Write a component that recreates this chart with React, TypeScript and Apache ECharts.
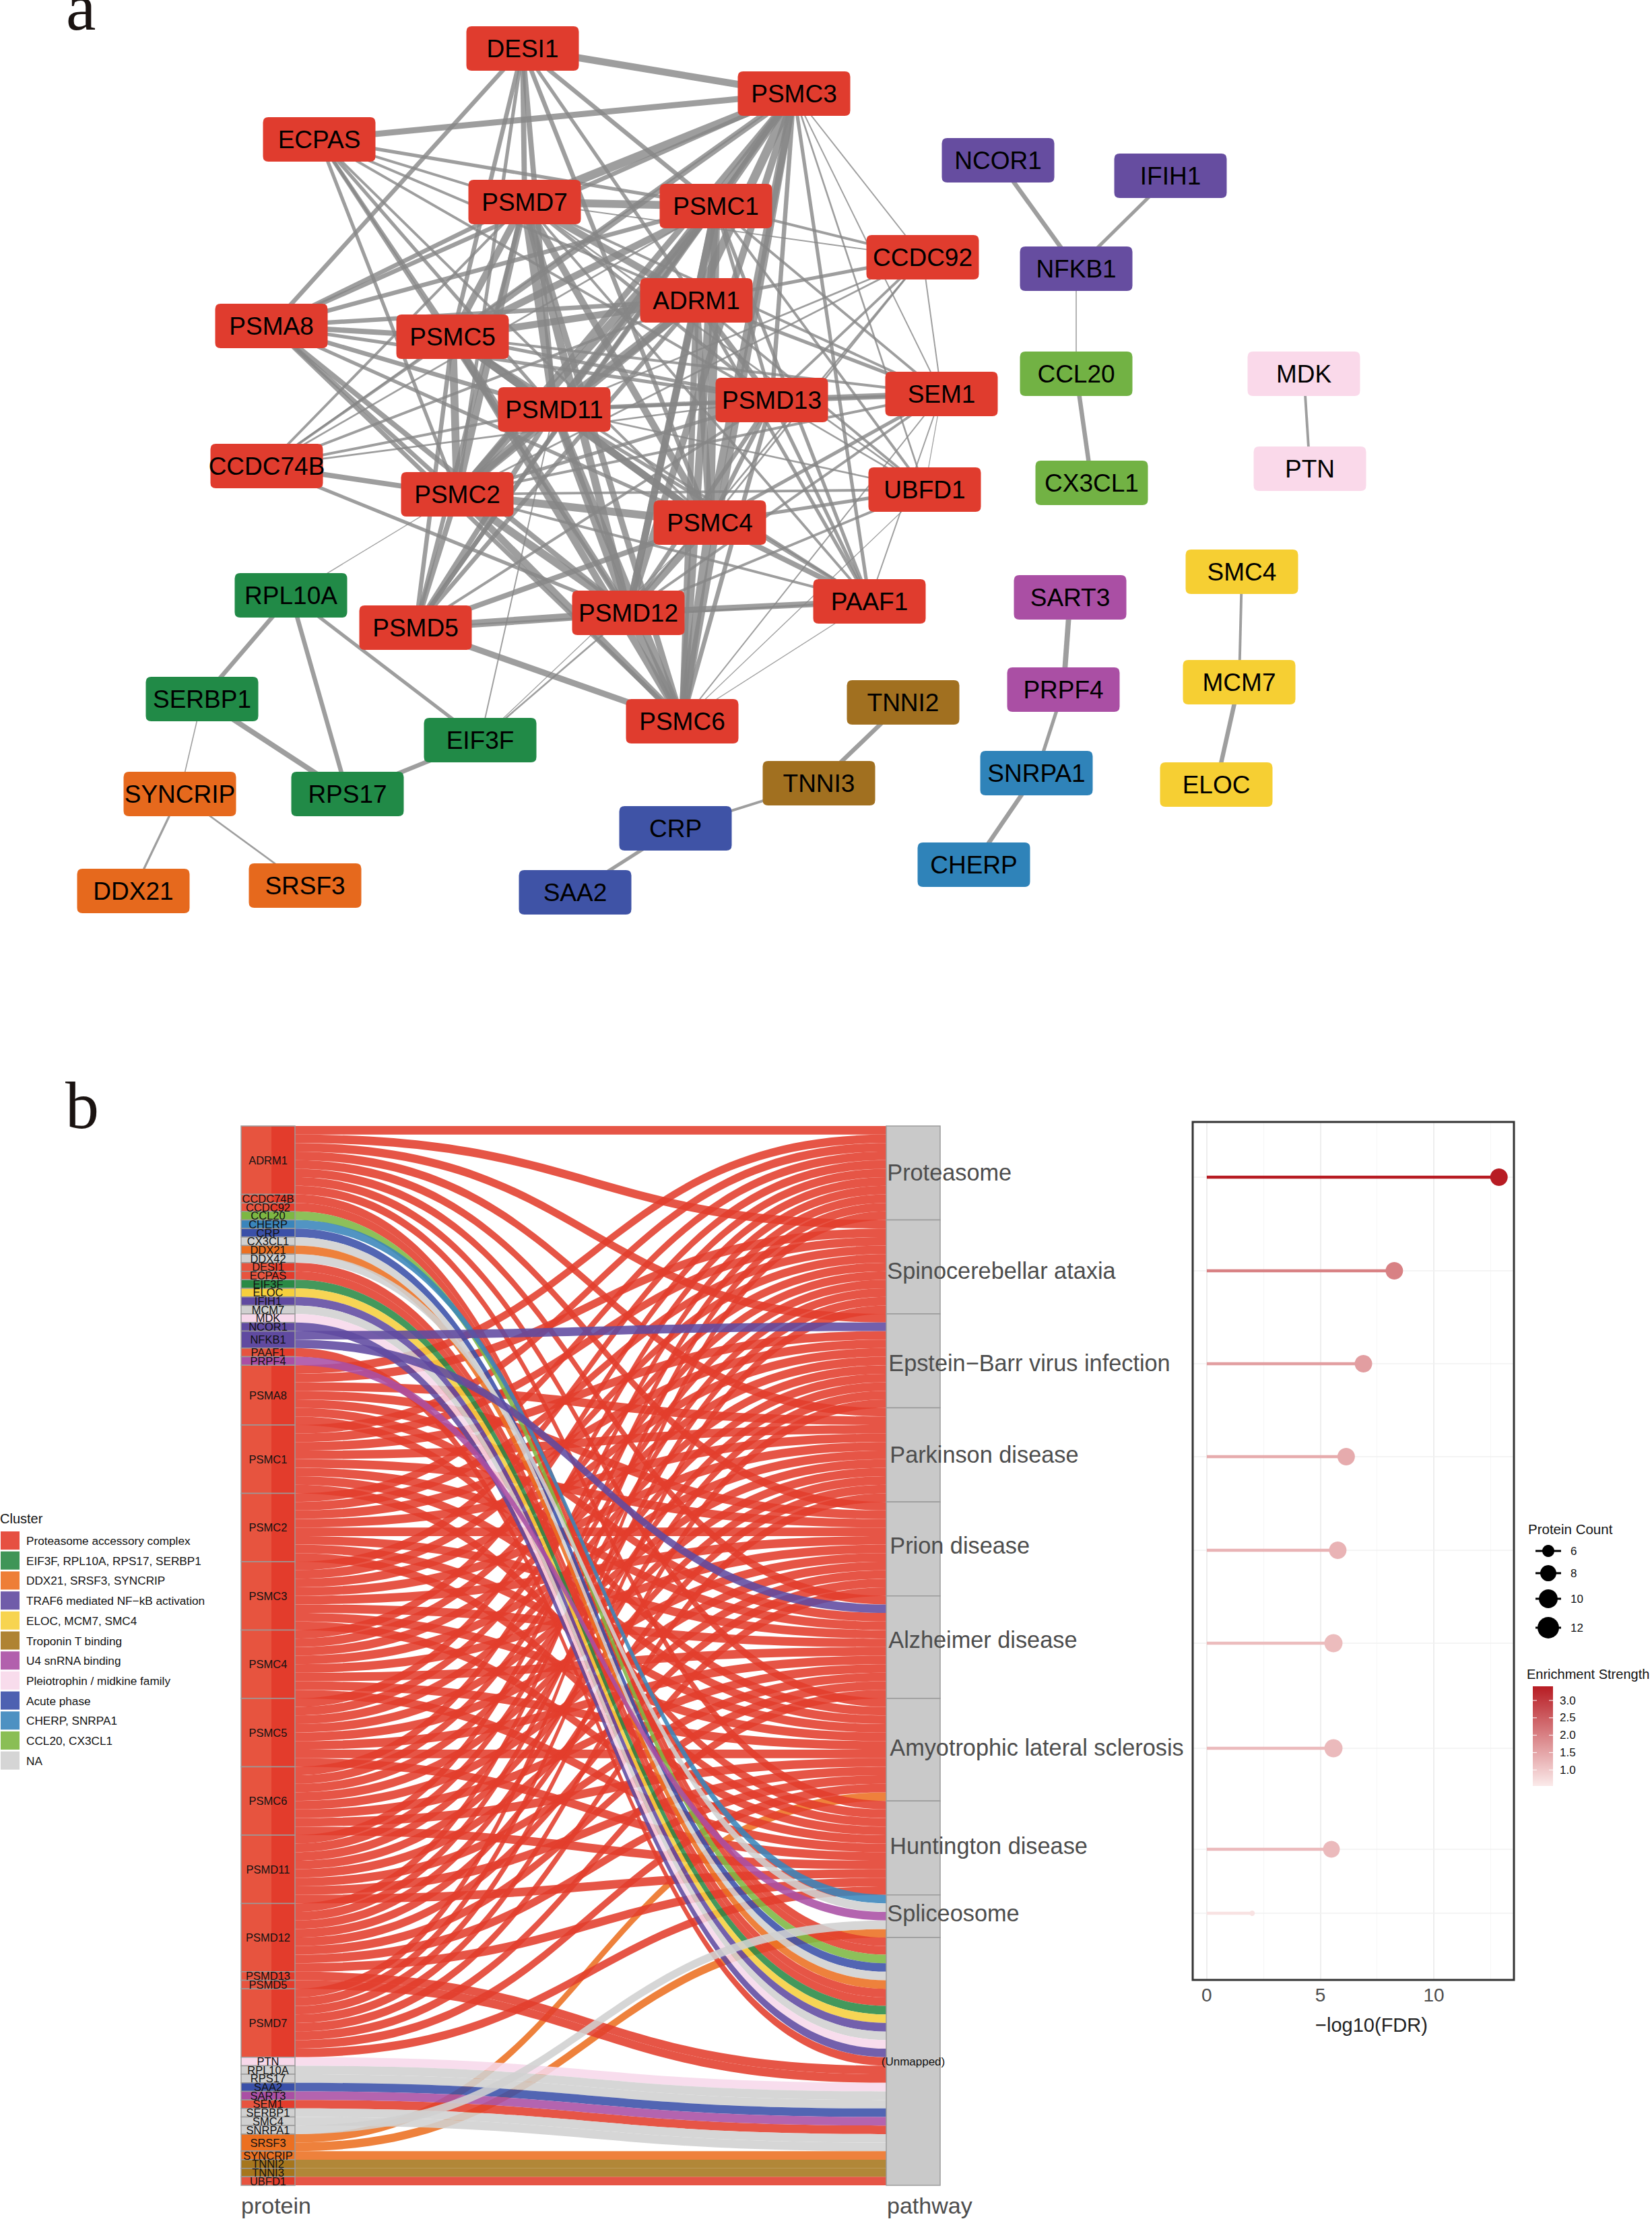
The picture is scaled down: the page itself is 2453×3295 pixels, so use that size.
import React, { useEffect, useRef } from "react";
import * as echarts from "echarts";

const FONT = "Liberation Sans";
const EDGE_SCALE = 1.3;

// ---------- network (panel a) ----------
const netColors: Record<string, string> = {
  red: "#e03c2e", green: "#218a47", orange: "#e6691d", purple: "#664da0", yellow: "#f6cf33",
  brown: "#a17020", magenta: "#aa4fa4", pink: "#fad9ea", indigo: "#3f53a6", blue: "#2f83b9", lime: "#72b244",
};
const netNodes: [string, number, number, string][] = [
  ["DESI1", 776, 72, "red"], ["PSMC3", 1179, 139, "red"], ["ECPAS", 474, 207, "red"], ["PSMD7", 779, 300, "red"],
  ["PSMC1", 1063, 306, "red"], ["CCDC92", 1370, 382, "red"], ["ADRM1", 1034, 446, "red"], ["PSMA8", 403, 484, "red"],
  ["PSMC5", 672, 500, "red"], ["PSMD11", 823, 608, "red"], ["PSMD13", 1146, 594, "red"], ["SEM1", 1398, 585, "red"],
  ["CCDC74B", 396, 692, "red"], ["PSMC2", 679, 734, "red"], ["UBFD1", 1373, 727, "red"], ["PSMC4", 1054, 776, "red"],
  ["PSMD5", 617, 932, "red"], ["PSMD12", 933, 910, "red"], ["PAAF1", 1291, 893, "red"], ["PSMC6", 1013, 1071, "red"],
  ["RPL10A", 432, 884, "green"], ["SERBP1", 300, 1038, "green"], ["EIF3F", 713, 1099, "green"], ["RPS17", 516, 1179, "green"],
  ["SYNCRIP", 267, 1179, "orange"], ["DDX21", 198, 1323, "orange"], ["SRSF3", 453, 1315, "orange"],
  ["TNNI2", 1341, 1043, "brown"], ["TNNI3", 1216, 1163, "brown"], ["CRP", 1003, 1230, "indigo"], ["SAA2", 854, 1325, "indigo"],
  ["NCOR1", 1482, 238, "purple"], ["IFIH1", 1738, 261, "purple"], ["NFKB1", 1598, 399, "purple"],
  ["CCL20", 1598, 555, "lime"], ["CX3CL1", 1621, 717, "lime"], ["MDK", 1936, 555, "pink"], ["PTN", 1945, 696, "pink"],
  ["SMC4", 1844, 849, "yellow"], ["MCM7", 1840, 1013, "yellow"], ["ELOC", 1806, 1165, "yellow"],
  ["SART3", 1589, 887, "magenta"], ["PRPF4", 1579, 1024, "magenta"], ["SNRPA1", 1539, 1148, "blue"], ["CHERP", 1446, 1284, "blue"],
];
const coreEdges: [string, string, number][] = [
  ["ADRM1", "PSMC1", 9], ["ADRM1", "PSMC2", 8], ["ADRM1", "PSMC3", 10], ["ADRM1", "PSMC4", 8], ["ADRM1", "PSMC5", 8],
  ["ADRM1", "PSMC6", 7], ["ADRM1", "PSMD7", 8], ["ADRM1", "PSMD11", 10], ["ADRM1", "PSMD12", 8],
  ["PSMC1", "PSMC2", 9], ["PSMC1", "PSMC3", 8], ["PSMC1", "PSMC4", 10], ["PSMC1", "PSMC5", 8], ["PSMC1", "PSMC6", 9],
  ["PSMC1", "PSMD7", 9], ["PSMC1", "PSMD11", 8], ["PSMC1", "PSMD12", 8],
  ["PSMC2", "PSMC3", 7], ["PSMC2", "PSMC4", 9], ["PSMC2", "PSMC5", 9], ["PSMC2", "PSMC6", 8], ["PSMC2", "PSMD7", 8],
  ["PSMC2", "PSMD11", 9], ["PSMC2", "PSMD12", 9],
  ["PSMC3", "PSMC4", 9], ["PSMC3", "PSMC5", 8], ["PSMC3", "PSMC6", 8], ["PSMC3", "PSMD7", 10], ["PSMC3", "PSMD11", 8], ["PSMC3", "PSMD12", 8],
  ["PSMC4", "PSMC5", 8], ["PSMC4", "PSMC6", 10], ["PSMC4", "PSMD7", 8], ["PSMC4", "PSMD11", 8], ["PSMC4", "PSMD12", 9],
  ["PSMC5", "PSMC6", 8], ["PSMC5", "PSMD7", 8], ["PSMC5", "PSMD11", 9], ["PSMC5", "PSMD12", 8],
  ["PSMC6", "PSMD7", 7], ["PSMC6", "PSMD11", 9], ["PSMC6", "PSMD12", 9],
  ["PSMD7", "PSMD11", 10], ["PSMD7", "PSMD12", 9], ["PSMD11", "PSMD12", 9],
];
const peripheralEdges: [string, string, number][] = [
  ["DESI1", "PSMC3", 8], ["DESI1", "PSMA8", 5], ["DESI1", "PSMD7", 6], ["DESI1", "PSMC5", 5], ["DESI1", "PSMD11", 6],
  ["DESI1", "PSMC4", 5], ["DESI1", "PSMC1", 5], ["DESI1", "PSMC2", 4], ["DESI1", "ADRM1", 4],
  ["ECPAS", "PSMC3", 7], ["ECPAS", "PSMC1", 4], ["ECPAS", "PSMD7", 3], ["ECPAS", "ADRM1", 3], ["ECPAS", "PSMC5", 4],
  ["ECPAS", "PSMD11", 4], ["ECPAS", "PSMC2", 4], ["ECPAS", "PSMD12", 4], ["ECPAS", "PSMC4", 3], ["ECPAS", "PSMD13", 3],
  ["PSMA8", "PSMD7", 5], ["PSMA8", "PSMC1", 5], ["PSMA8", "ADRM1", 5], ["PSMA8", "PSMC3", 5], ["PSMA8", "PSMC5", 6],
  ["PSMA8", "PSMD11", 5], ["PSMA8", "PSMC2", 5], ["PSMA8", "PSMC4", 4], ["PSMA8", "PSMD12", 6], ["PSMA8", "PSMC6", 5], ["PSMA8", "PSMD13", 4],
  ["CCDC74B", "PSMC5", 3], ["CCDC74B", "PSMD7", 3], ["CCDC74B", "PSMC1", 2], ["CCDC74B", "ADRM1", 3], ["CCDC74B", "PSMD11", 3],
  ["CCDC74B", "PSMC2", 6], ["CCDC74B", "PSMD12", 4], ["CCDC74B", "PSMD13", 2], ["CCDC74B", "PSMC3", 2],
  ["SEM1", "PSMD13", 7], ["SEM1", "PSMD11", 3], ["SEM1", "ADRM1", 4], ["SEM1", "PSMC1", 3], ["SEM1", "PSMC5", 3], ["SEM1", "PSMC4", 4],
  ["SEM1", "PSMD7", 3], ["SEM1", "PSMC2", 3], ["SEM1", "PSMD12", 3], ["SEM1", "PSMC6", 1.5], ["SEM1", "PAAF1", 1.5], ["SEM1", "PSMC3", 1.5], ["SEM1", "UBFD1", 1],
  ["CCDC92", "PSMC3", 1.5], ["CCDC92", "PSMC1", 3], ["CCDC92", "PSMD7", 1.5], ["CCDC92", "ADRM1", 4], ["CCDC92", "PSMD11", 2], ["CCDC92", "PSMD13", 3],
  ["CCDC92", "PSMC4", 2], ["CCDC92", "PSMD12", 2], ["CCDC92", "PSMC2", 2], ["CCDC92", "SEM1", 1.5],
  ["UBFD1", "PSMC2", 3], ["UBFD1", "PSMC4", 4], ["UBFD1", "PSMD11", 2], ["UBFD1", "ADRM1", 3], ["UBFD1", "PSMC1", 3], ["UBFD1", "PSMD12", 3],
  ["UBFD1", "PSMC6", 1], ["UBFD1", "PSMC3", 2], ["UBFD1", "PSMD13", 2], ["UBFD1", "PSMD7", 2],
  ["PAAF1", "PSMD12", 7], ["PAAF1", "PSMC4", 6], ["PAAF1", "ADRM1", 4], ["PAAF1", "PSMC1", 4], ["PAAF1", "PSMC2", 3], ["PAAF1", "PSMD11", 4],
  ["PAAF1", "PSMD7", 3], ["PAAF1", "PSMC3", 4], ["PAAF1", "PSMD13", 4], ["PAAF1", "PSMC5", 3], ["PAAF1", "PSMC6", 1], ["PAAF1", "PSMD5", 2],
  ["PSMD5", "PSMD12", 9], ["PSMD5", "PSMC6", 7], ["PSMD5", "PSMC2", 6], ["PSMD5", "PSMC5", 5], ["PSMD5", "PSMD7", 5], ["PSMD5", "PSMD11", 6],
  ["PSMD5", "PSMC1", 5], ["PSMD5", "ADRM1", 5], ["PSMD5", "PSMC3", 5], ["PSMD5", "PSMC4", 6], ["PSMD5", "PSMD13", 3],
  ["PSMD13", "ADRM1", 6], ["PSMD13", "PSMC1", 4], ["PSMD13", "PSMD11", 5], ["PSMD13", "PSMC4", 5], ["PSMD13", "PSMC6", 5], ["PSMD13", "PSMD12", 5],
  ["PSMD13", "PSMC2", 4], ["PSMD13", "PSMC5", 4], ["PSMD13", "PSMC3", 5], ["PSMD13", "PSMD7", 4],
];
const smallEdges: [string, string, number][] = [
  ["RPL10A", "SERBP1", 5], ["RPL10A", "RPS17", 5], ["RPL10A", "EIF3F", 4], ["RPL10A", "PSMC2", 1],
  ["EIF3F", "RPS17", 5], ["EIF3F", "PSMD11", 1.5], ["EIF3F", "PSMC4", 1], ["EIF3F", "PSMD12", 2],
  ["SERBP1", "RPS17", 6], ["SERBP1", "SYNCRIP", 1.2], ["SYNCRIP", "DDX21", 2.5], ["SYNCRIP", "SRSF3", 2],
  ["TNNI2", "TNNI3", 5], ["TNNI3", "CRP", 3], ["CRP", "SAA2", 4], ["SART3", "PRPF4", 6], ["PRPF4", "SNRPA1", 4], ["SNRPA1", "CHERP", 5],
  ["SMC4", "MCM7", 3], ["MCM7", "ELOC", 5], ["MDK", "PTN", 3], ["NFKB1", "CCL20", 1.2], ["CCL20", "CX3CL1", 5], ["NFKB1", "NCOR1", 5], ["NFKB1", "IFIH1", 4],
];

// ---------- alluvial (panel b) ----------
const clusterNames = [
  "Proteasome accessory complex", "EIF3F, RPL10A, RPS17, SERBP1", "DDX21, SRSF3, SYNCRIP", "TRAF6 mediated NF\u2212kB activation",
  "ELOC, MCM7, SMC4", "Troponin T binding", "U4 snRNA binding", "Pleiotrophin / midkine family", "Acute phase",
  "CHERP, SNRPA1", "CCL20, CX3CL1", "NA",
];
const clusterColors = ["#e33d2c", "#2a8a45", "#ec7021", "#604aa0", "#f6cf3d", "#a6761d", "#aa4fa4", "#f7d8ea", "#3a50a8", "#3a85bb", "#7db743", "#d0d0d0"];
const pathways = [
  "Proteasome", "Spinocerebellar ataxia", "Epstein\u2212Barr virus infection", "Parkinson disease", "Prion disease",
  "Alzheimer disease", "Amyotrophic lateral sclerosis", "Huntington disease", "Spliceosome", "(Unmapped)",
];
const pathwayUnits = [11, 11, 11, 11, 11, 12, 12, 11, 5, 29];
const pathwayLabelDx = [2, 2, 4, 6, 6, 4, 6, 6, 2, 0];
const pathwayLabelDy = [0, 6, 4, 0, -4, -10, -2, -2, -4, 0];
const UNIT_PX = 1573 / 124;
const eight = [0, 1, 2, 3, 4, 5, 6, 7];
const seven = [0, 1, 3, 4, 5, 6, 7];
const proteinFlows: [string, number, number[]][] = [
  ["ADRM1", 0, eight], ["CCDC74B", 0, [9]], ["CCDC92", 0, [9]], ["CCL20", 10, [9]], ["CHERP", 9, [8]], ["CRP", 8, [9]],
  ["CX3CL1", 11, [9]], ["DDX21", 2, [9]], ["DDX42", 11, [8]], ["DESI1", 0, [9]], ["ECPAS", 0, [9]], ["EIF3F", 1, [9]],
  ["ELOC", 4, [9]], ["IFIH1", 3, [9]], ["MCM7", 11, [9]], ["MDK", 7, [9]], ["NCOR1", 3, [9]], ["NFKB1", 3, [2, 5]],
  ["PAAF1", 0, [9]], ["PRPF4", 6, [8]], ["PSMA8", 0, seven], ["PSMC1", 0, eight], ["PSMC2", 0, eight], ["PSMC3", 0, eight],
  ["PSMC4", 0, eight], ["PSMC5", 0, eight], ["PSMC6", 0, eight], ["PSMD11", 0, eight], ["PSMD12", 0, eight], ["PSMD13", 0, [9]],
  ["PSMD5", 0, [9]], ["PSMD7", 0, eight], ["PTN", 7, [9]], ["RPL10A", 11, [9]], ["RPS17", 11, [9]], ["SAA2", 8, [9]],
  ["SART3", 6, [9]], ["SEM1", 0, [9]], ["SERBP1", 11, [9]], ["SMC4", 11, [9]], ["SNRPA1", 11, [8]], ["SRSF3", 2, [6, 8]],
  ["SYNCRIP", 2, [9]], ["TNNI2", 5, [9]], ["TNNI3", 5, [9]], ["UBFD1", 0, [9]],
];

// ---------- lollipop ----------
const lollipopRows = [82, 221, 359, 497, 636, 774, 930, 1080, 1175];
const minusLogFdr = [12.87, 8.26, 6.9, 6.14, 5.77, 5.58, 5.58, 5.49, 2.0];
const dotDiameter = [26, 26, 26, 26, 26, 27, 27, 25, 8];
const enrichment = [3.2, 2.0, 1.65, 1.5, 1.4, 1.3, 1.32, 1.32, 0.85];
const countLegend = [6, 8, 10, 12];
const countLegendSize = [18, 24, 28, 32];
const strengthTicks = ["3.0", "2.5", "2.0", "1.5", "1.0"];

function roundedBox(): string {
  return "path://M8 0H159Q167 0 167 8V58Q167 66 159 66H8Q0 66 0 58V8Q0 0 8 0Z";
}

function drawRank(name: string, c: number): number {
  if (name === "SRSF3") return 0; // lies under the red ribbons
  return c === 0 ? 1 : 2;
}

function buildOption(): any {
  const netData = netNodes.map(([name, x, y, c]) => ({
    name, value: [x, y], symbol: roundedBox(), symbolSize: [167, 66], itemStyle: { color: netColors[c] },
  }));
  const netLinks = [...coreEdges, ...peripheralEdges, ...smallEdges].map(([source, target, w]) => ({
    source, target, lineStyle: { width: w * EDGE_SCALE },
  }));

  const sankeyNodes: any[] = proteinFlows.map(([name, c]) => ({
    name, depth: 0,
    itemStyle: {
      borderColor: "#9a9a9a", borderWidth: 1.5,
      color: c === 0
        ? { type: "linear", x: 0, y: 0, x2: 1, y2: 0, colorStops: [
            { offset: 0, color: "#e7543f" }, { offset: 0.56, color: "#e7543f" },
            { offset: 0.56, color: "#e33c2c" }, { offset: 1, color: "#e33c2c" }] }
        : clusterColors[c],
    },
    label: { show: true, position: "inside", fontSize: 16.5, color: "#111", fontFamily: FONT },
  }));
  pathways.forEach((name, i) => {
    sankeyNodes.push({
      name, depth: 1,
      itemStyle: { color: "#c9c9c9", borderColor: "#9a9a9a", borderWidth: 1.5 },
      label: i === 9
        ? { show: true, position: "inside", fontSize: 17, color: "#111", fontFamily: FONT }
        : { show: true, position: [pathwayLabelDx[i], (pathwayUnits[i] * UNIT_PX) / 2 + pathwayLabelDy[i]], align: "left", verticalAlign: "middle", fontSize: 34.3, color: "#4d4d4d", fontFamily: FONT },
    });
  });
  const flows: any[] = [];
  proteinFlows.forEach(([name, c, targets]) => {
    targets.forEach((t) => flows.push({ source: name, target: pathways[t], value: 1, rank: drawRank(name, c), lineStyle: { color: clusterColors[c], opacity: 0.88, curveness: 0.5 } }));
  });
  flows.sort((a, b) => a.rank - b.rank);

  const lolli = lollipopRows.map((y, i) => [minusLogFdr[i], y, dotDiameter[i], enrichment[i]]);

  const g: any[] = [];
  const txt = (x: number, y: number, text: string, fontSize: number, fill = "#111") =>
    g.push({ type: "text", x, y, style: { text, fontSize, fill, fontFamily: FONT, verticalAlign: "middle" } });
  g.push({ type: "text", x: 98, y: -40, style: { text: "a", fontSize: 100, fill: "#1a1311", fontFamily: "Liberation Serif" } });
  g.push({ type: "text", x: 97, y: 1591, style: { text: "b", fontSize: 100, fill: "#1a1311", fontFamily: "Liberation Serif" } });
  txt(358, 3275, "protein", 34, "#4d4d4d");
  txt(1317, 3275, "pathway", 34, "#4d4d4d");
  txt(0, 2255, "Cluster", 20);
  clusterNames.forEach((name, i) => {
    g.push({ type: "rect", shape: { x: 1, y: 2274 + i * 29.7, width: 28, height: 27 }, style: { fill: clusterColors[i], opacity: 0.9 } });
    txt(39, 2288 + i * 29.7, name, 17.2);
  });
  txt(2269, 2270, "Protein Count", 20.5);
  const keyY = [2303, 2336, 2374, 2417];
  countLegend.forEach((c, i) => {
    g.push({ type: "line", shape: { x1: 2280, y1: keyY[i], x2: 2318, y2: keyY[i] }, style: { stroke: "#000", lineWidth: 3 } });
    g.push({ type: "circle", shape: { cx: 2299, cy: keyY[i], r: countLegendSize[i] / 2 }, style: { fill: "#000" } });
    txt(2332, keyY[i], String(c), 17);
  });
  txt(2267, 2486, "Enrichment Strength", 20);
  g.push({
    type: "rect", shape: { x: 2276, y: 2504, width: 30, height: 148 },
    style: { fill: { type: "linear", x: 0, y: 0, x2: 0, y2: 1, colorStops: [{ offset: 0, color: "#b71c23" }, { offset: 1, color: "#fbeaea" }] } },
  });
  strengthTicks.forEach((t, i) => {
    const y = 2525 + i * 25.8;
    g.push({ type: "line", shape: { x1: 2276, y1: y, x2: 2282, y2: y }, style: { stroke: "#fff", lineWidth: 1 } });
    g.push({ type: "line", shape: { x1: 2300, y1: y, x2: 2306, y2: y }, style: { stroke: "#fff", lineWidth: 1 } });
    txt(2316, y, t, 17);
  });
  // panel frame above the grid lines
  g.push({ type: "rect", z: 100, shape: { x: 1771, y: 1666, width: 477, height: 1274 }, style: { fill: "transparent", stroke: "#333", lineWidth: 3 } });

  return {
    animation: false,
    backgroundColor: "#fff",
    textStyle: { fontFamily: FONT },
    grid: [
      { left: 1771, top: 1666, width: 477, height: 1274, show: false },
      { left: 0, top: 0, width: 2453, height: 1400 },
    ],
    xAxis: [
      {
        type: "value", gridIndex: 0, min: -0.62, max: 13.53, splitNumber: 3,
        name: "\u2212log10(FDR)", nameLocation: "middle", nameGap: 52,
        nameTextStyle: { fontSize: 29, color: "#222", fontFamily: FONT, padding: [0, 0, 0, 54] },
        axisLine: { show: false }, axisTick: { show: false },
        axisLabel: { fontSize: 28, color: "#4d4d4d", margin: 8, fontFamily: FONT, showMinLabel: false, showMaxLabel: false },
        splitLine: { show: true, lineStyle: { color: "#eeeeee", width: 2 } },
        minorSplitLine: { show: true, lineStyle: { color: "#f5f5f5", width: 1 } },
        minorTick: { show: false, splitNumber: 2 },
      },
      { type: "value", gridIndex: 1, min: 0, max: 2453, show: false },
    ],
    yAxis: [
      { type: "value", gridIndex: 0, min: 0, max: 1274, inverse: true, show: false, splitLine: { show: false } },
      { type: "value", gridIndex: 1, min: 0, max: 1400, inverse: true, show: false },
    ],
    visualMap: { show: false, seriesIndex: [3, 4], dimension: 3, min: 0.75, max: 3.2, inRange: { color: ["#fbeaea", "#b71c23"] } },
    graphic: { elements: g },
    series: [
      {
        type: "graph", coordinateSystem: "cartesian2d", xAxisIndex: 1, yAxisIndex: 1, layout: "none", silent: true,
        data: netData, links: netLinks,
        lineStyle: { color: "#868686", opacity: 0.8, curveness: 0 },
        label: { show: true, position: "inside", fontSize: 37, color: "#000", fontFamily: FONT },
        emphasis: { disabled: true },
      },
      {
        type: "sankey", left: 358, top: 1672, width: 1038, height: 1573, nodeWidth: 80, nodeGap: 0,
        layoutIterations: 0, orient: "horizontal", draggable: false, silent: true,
        data: sankeyNodes, links: flows,
        emphasis: { disabled: true },
      },
      {
        type: "scatter", xAxisIndex: 0, yAxisIndex: 0, data: [], silent: true, z: 1,
        markLine: {
          silent: true, symbol: "none", z: 1, label: { show: false },
          lineStyle: { color: "#f0f0f0", width: 1.5, type: "solid" },
          data: lollipopRows.map((v) => ({ yAxis: v })),
        },
      },
      {
        type: "custom", xAxisIndex: 0, yAxisIndex: 0, silent: true, z: 2, data: lolli,
        renderItem: (_p: any, api: any) => {
          const a = api.coord([0, api.value(1)]);
          const b = api.coord([api.value(0), api.value(1)]);
          return { type: "line", shape: { x1: a[0], y1: a[1], x2: b[0], y2: b[1] }, style: { stroke: api.visual("color"), lineWidth: 4.5 } };
        },
        encode: { x: 0, y: 1 },
      },
      {
        type: "scatter", xAxisIndex: 0, yAxisIndex: 0, silent: true, z: 3, data: lolli,
        symbolSize: (v: number[]) => v[2],
        itemStyle: { opacity: 1 },
      },
    ],
  };
}

export default function App() {
  const ref = useRef<HTMLDivElement>(null);
  useEffect(() => {
    const chart = echarts.init(ref.current!, undefined, { renderer: "svg" });
    chart.setOption(buildOption());
    return () => chart.dispose();
  }, []);
  return <div ref={ref} style={{ position: "absolute", left: 0, top: 0, width: 2453, height: 3295 }} />;
}
